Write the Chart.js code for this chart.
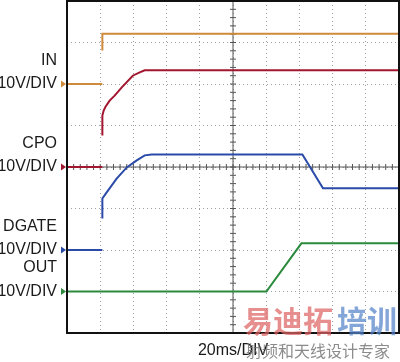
<!DOCTYPE html>
<html>
<head>
<meta charset="utf-8">
<script src="https://cdn.jsdelivr.net/npm/chart.js@4.4.1/dist/chart.umd.min.js"></script>
<style>
  html, body { margin: 0; padding: 0; background: #fff; }
  #wrap { position: relative; width: 400px; height: 362px; }
</style>
</head>
<body>
<div id="wrap"><canvas id="scope" width="400" height="362"></canvas></div>
<script>
// time in ms (20ms/DIV, 10 divisions), level in divisions (8 divisions)
// null = gap where the fast edge is not captured
const inTime = [0, 21.3, 21.3, 21.3, 21.3, 200];
const inLevel = [6.0, 6.0, null, 6.81, 7.21, 7.21];

const cpoTime = [0, 21.3, 21.3, 21.3, 21.3, 22.1, 23.3, 25.7, 28.7, 33.0, 39.6, 43.8, 46.8, 200];
const cpoLevel = [4.0, 4.0, null, 4.76, 5.24, 5.36, 5.46, 5.60, 5.72, 5.92, 6.20, 6.28, 6.33, 6.33];

const dgateTime = [0, 21.3, 21.3, 21.3, 21.3, 23.9, 29.9, 36.0, 42.0, 46.8, 51.0, 141.8, 154.2, 200];
const dgateLevel = [2.0, 2.0, null, 2.76, 3.24, 3.39, 3.72, 3.99, 4.16, 4.28, 4.30, 4.30, 3.49, 3.49];

const outTime = [0, 120.1, 141.2, 200];
const outLevel = [1.0, 1.0, 2.16, 2.16];

const channelNames = ['IN', 'CPO', 'DGATE', 'OUT'];
const channelScale = '10V/DIV';
const channelBase = [6, 4, 2, 1];
const channelColors = ['#d08a3c', '#a3162f', '#2a4aa8', '#2b8a3e'];
const timeLabel = '20ms/DIV';

const toPoints = (t, v) => t.map((x, i) => ({ x: x, y: v[i] }));

const traces = [
    toPoints(inTime, inLevel),
    toPoints(cpoTime, cpoLevel),
    toPoints(dgateTime, dgateLevel),
    toPoints(outTime, outLevel)
];

// scope decorations: centre crosshair with minor ticks, frame, labels, markers
const scopePlugin = {
    id: 'scopeDecor',
    beforeDatasetsDraw(chart) {
        const { ctx, chartArea: a, scales: { x, y } } = chart;
        const cx = x.getPixelForValue(100);
        const cy = y.getPixelForValue(4);
        ctx.save();
        ctx.strokeStyle = '#555';
        ctx.lineWidth = 1;
        ctx.beginPath();
        ctx.moveTo(cx, a.top); ctx.lineTo(cx, a.bottom);
        ctx.moveTo(a.left, cy); ctx.lineTo(a.right, cy);
        for (let i = 0; i <= 50; i++) {
            const px = x.getPixelForValue(i * 4);
            ctx.moveTo(px, cy - 3); ctx.lineTo(px, cy + 3);
        }
        for (let i = 0; i <= 40; i++) {
            const py = y.getPixelForValue(i * 0.2);
            ctx.moveTo(cx - 3, py); ctx.lineTo(cx + 3, py);
        }
        ctx.stroke();
        ctx.restore();
    },
    afterDraw(chart) {
        const { ctx, chartArea: a, scales: { x, y } } = chart;
        ctx.save();
        // frame
        ctx.strokeStyle = '#111';
        ctx.lineWidth = 2;
        ctx.strokeRect(a.left, a.top, a.right - a.left, a.bottom - a.top);

        // channel labels + ground markers
        ctx.font = '16px "Liberation Sans", Arial, sans-serif';
        ctx.textAlign = 'right';
        ctx.textBaseline = 'middle';
        const nameOffset = [23, 23, 23, 24];
        channelNames.forEach((name, i) => {
            const py = y.getPixelForValue(channelBase[i]);
            ctx.fillStyle = '#1a1a1a';
            ctx.fillText(channelScale, 57, py);
            ctx.fillText(name, 57, py - nameOffset[i]);
            ctx.fillStyle = channelColors[i];
            ctx.beginPath();
            ctx.moveTo(a.left - 6, py - 3.5);
            ctx.lineTo(a.left - 1, py);
            ctx.lineTo(a.left - 6, py + 3.5);
            ctx.closePath();
            ctx.fill();
        });

        // time base
        ctx.fillStyle = '#1a1a1a';
        ctx.textAlign = 'center';
        ctx.fillText(timeLabel, x.getPixelForValue(100), 351);

        // watermark
        ctx.textAlign = 'left';
        ctx.font = 'bold 30px "Noto Sans CJK SC", sans-serif';
        ctx.fillStyle = 'rgba(222, 100, 100, 0.72)';
        ctx.fillText('易迪拓', 243, 321);
        ctx.fillStyle = 'rgba(85, 130, 200, 0.72)';
        ctx.fillText('培训', 337, 321);
        ctx.font = '16px "Noto Sans CJK SC", sans-serif';
        ctx.fillStyle = 'rgba(110, 110, 110, 0.8)';
        ctx.fillText('射频和天线设计专家', 246, 351);
        ctx.restore();
    }
};

const datasets = traces.map((pts, i) => ({
    label: channelNames[i],
    data: pts,
    borderColor: channelColors[i],
    backgroundColor: channelColors[i],
    borderWidth: 2,
    pointRadius: 0,
    fill: false,
    spanGaps: false,
    tension: 0
}));

const gridOpts = {
    color: '#a0a0a0',
    lineWidth: 1,
    drawTicks: false
};

new Chart(document.getElementById('scope').getContext('2d'), {
    type: 'line',
    data: { datasets },
    options: {
        responsive: false,
        animation: false,
        layout: { padding: { left: 67, top: 1, right: 1, bottom: 29 } },
        plugins: { legend: { display: false }, tooltip: { enabled: false } },
        scales: {
            x: {
                type: 'linear',
                min: 0, max: 200,
                ticks: { display: false, stepSize: 20 },
                grid: gridOpts,
                border: { display: false, dash: [1, 3] }
            },
            y: {
                type: 'linear',
                min: 0, max: 8,
                ticks: { display: false, stepSize: 1 },
                grid: gridOpts,
                border: { display: false, dash: [1, 3] }
            }
        }
    },
    plugins: [scopePlugin]
});
</script>
</body>
</html>
